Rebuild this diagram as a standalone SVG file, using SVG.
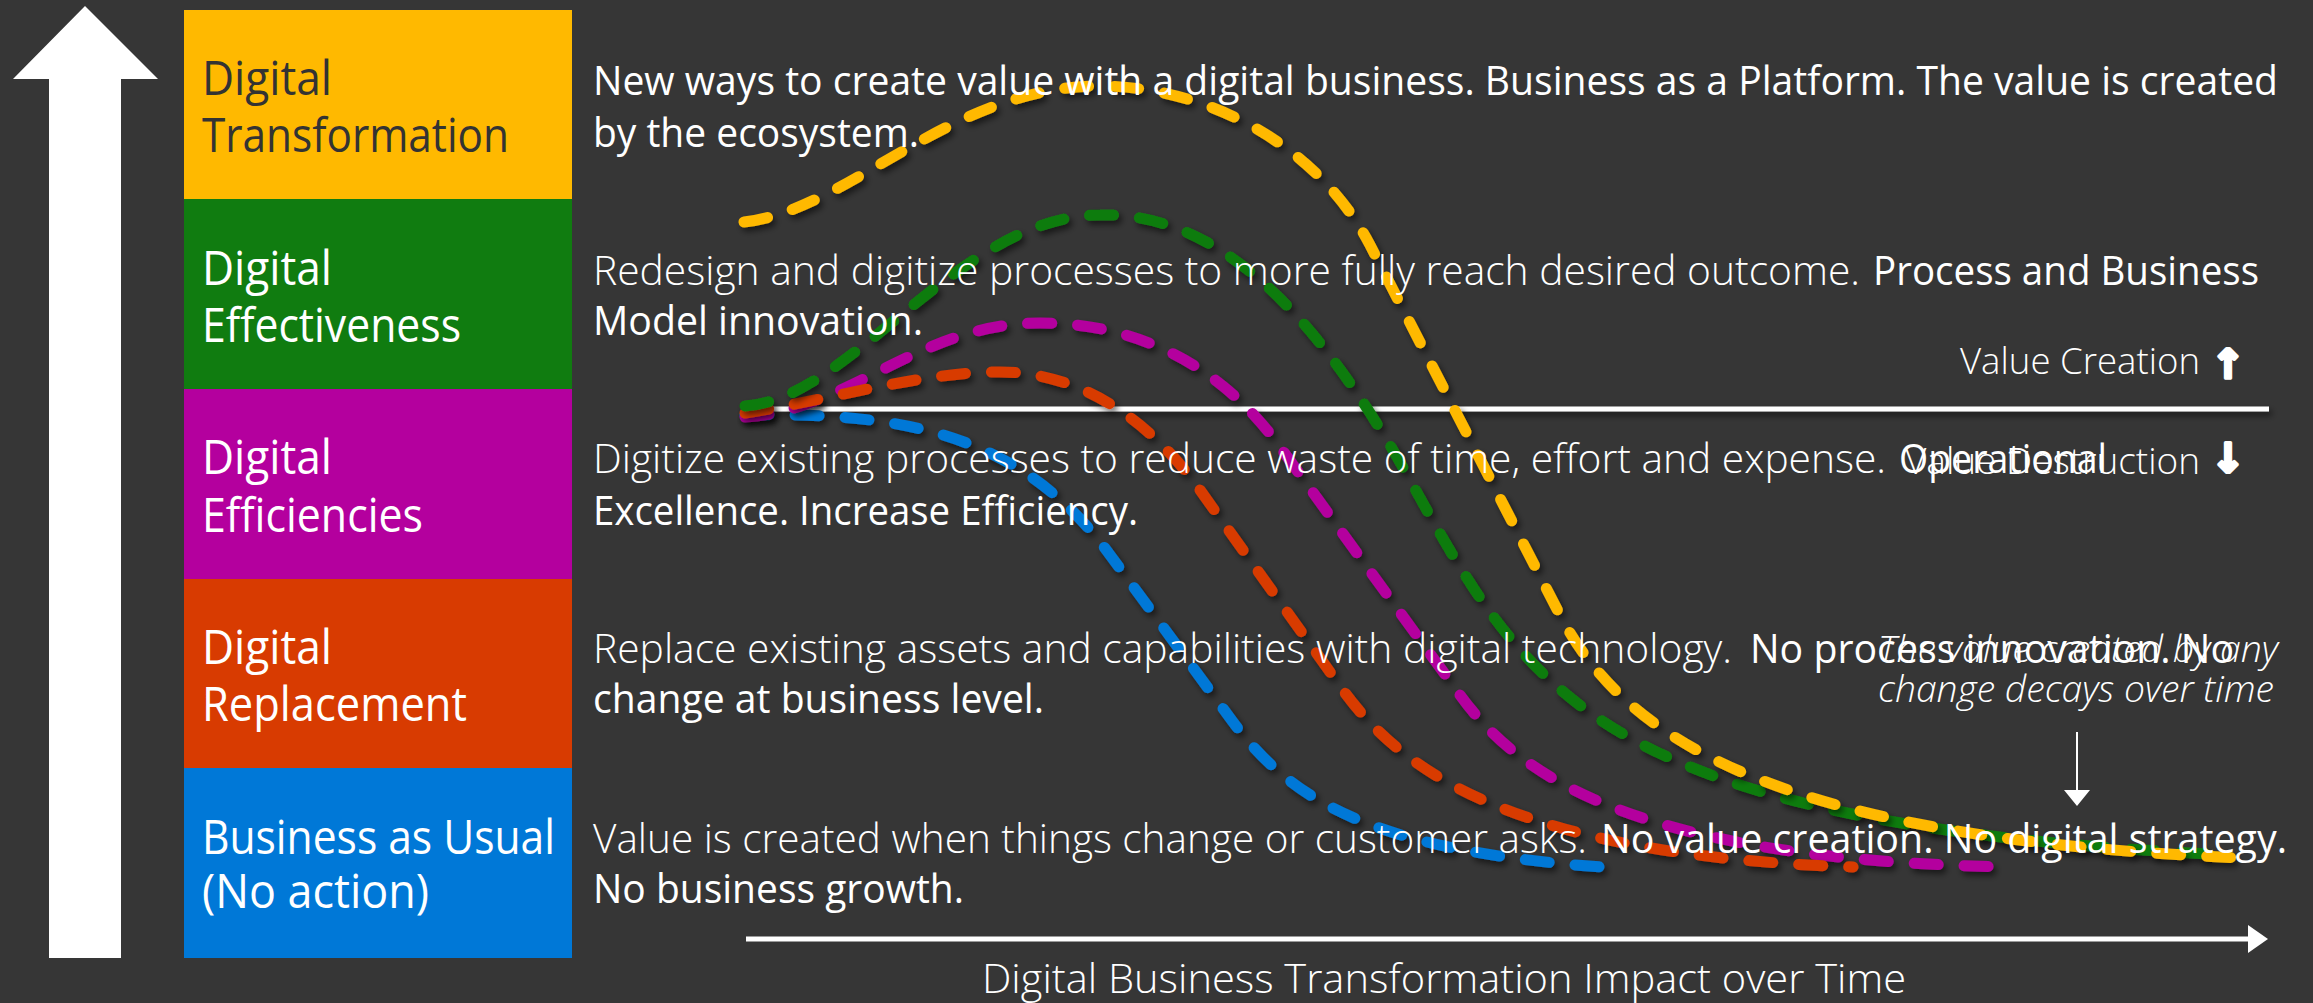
<svg xmlns="http://www.w3.org/2000/svg" width="2313" height="1003" viewBox="0 0 2313 1003">
<defs>
<style>
text{font-family:"Open Sans","Noto Sans","Liberation Sans",sans-serif}
.bl{font-size:48px;fill:#ffffff}
.dk{fill:#333333}
.d{font-size:40px;fill:#ffffff}
.lt{font-weight:300}
.r{font-size:36px;fill:#ffffff;font-weight:300}
.it{font-style:italic}
.sym{font-family:"DejaVu Sans",sans-serif;font-weight:bold;font-size:40px;fill:#ffffff;stroke:#ffffff;stroke-width:3.5;stroke-linejoin:round}
.curve{fill:none;stroke-width:11;stroke-linecap:round;stroke-dasharray:24 26;filter:url(#sh)}
</style>
<filter id="sh" filterUnits="userSpaceOnUse" x="0" y="0" width="2313" height="1003">
<feDropShadow dx="3" dy="4" stdDeviation="3" flood-color="#000000" flood-opacity="0.55"/>
</filter>
<marker id="axh" markerUnits="userSpaceOnUse" viewBox="0 0 20 28" refX="2" refY="14" markerWidth="20" markerHeight="28" orient="auto">
<path d="M0,0 L20,14 L0,28 Z" fill="#ffffff"/>
</marker>
<marker id="sah" markerUnits="userSpaceOnUse" viewBox="0 0 16 26" refX="2" refY="13" markerWidth="16" markerHeight="26" orient="auto">
<path d="M0,0 L16,13 L0,26 Z" fill="#ffffff"/>
</marker>
</defs>
<rect x="0" y="0" width="2313" height="1003" fill="#363636"/>

<g id="big-arrow">
<polygon points="85,6 158,79 121,79 121,958 49,958 49,79 13,79" fill="#ffffff"/>
</g>

<g id="box-transformation">
<rect x="184" y="10" width="388" height="190" fill="#FFB900"/>
<text class="bl dk" x="202" y="95" textLength="130" lengthAdjust="spacingAndGlyphs">Digital</text>
<text class="bl dk" x="202" y="152" textLength="307" lengthAdjust="spacingAndGlyphs">Transformation</text>
</g>
<g id="box-effectiveness">
<rect x="184" y="199" width="388" height="191" fill="#107C10"/>
<text class="bl" x="202" y="285" textLength="130" lengthAdjust="spacingAndGlyphs">Digital</text>
<text class="bl" x="202" y="342" textLength="259" lengthAdjust="spacingAndGlyphs">Effectiveness</text>
</g>
<g id="box-efficiencies">
<rect x="184" y="389" width="388" height="191" fill="#B4009E"/>
<text class="bl" x="202" y="474" textLength="130" lengthAdjust="spacingAndGlyphs">Digital</text>
<text class="bl" x="202" y="532" textLength="221" lengthAdjust="spacingAndGlyphs">Efficiencies</text>
</g>
<g id="box-replacement">
<rect x="184" y="579" width="388" height="190" fill="#D83B01"/>
<text class="bl" x="202" y="664" textLength="130" lengthAdjust="spacingAndGlyphs">Digital</text>
<text class="bl" x="202" y="721" textLength="265" lengthAdjust="spacingAndGlyphs">Replacement</text>
</g>
<g id="box-usual">
<rect x="184" y="768" width="388" height="190" fill="#0078D7"/>
<text class="bl" x="202" y="854" textLength="353" lengthAdjust="spacingAndGlyphs">Business as Usual</text>
<text class="bl" x="202" y="908" textLength="227" lengthAdjust="spacingAndGlyphs">(No action)</text>
</g>

<g id="axes">
<line x1="746" y1="409" x2="2269" y2="409" stroke="#ffffff" stroke-width="5" filter="url(#sh)"/>
<line x1="746" y1="939" x2="2250" y2="939" stroke="#ffffff" stroke-width="5" marker-end="url(#axh)"/>
</g>

<g id="curves">
<path class="curve" stroke="#0078D7" d="M745,415 C900,412 1020,432 1110,555 L1230,718 C1290,800 1370,850 1601,867"/>
<path class="curve" stroke="#B4009E" d="M745,417 C850,410 920,323 1040,323 C1150,323 1230,377 1280,447 L1460,695 C1520,778 1640,860 2009,867"/>
<path class="curve" stroke="#D83B01" d="M745,413 C830,400 920,372 1000,372 C1080,372 1150,420 1200,490 L1340,686 C1395,763 1500,855 1853,867"/>
<path class="curve" stroke="#107C10" d="M745,406 C850,400 960,215 1100,215 C1210,212 1310,300 1410,480 C1530,696 1600,825 2230,855"/>
<path class="curve" stroke="#FFB900" d="M744,222 C850,210 950,86 1100,86 C1200,86 1315,140 1370,245 L1560,615 C1630,750 1800,840 2245,858"/>
</g>

<g id="descriptions">
<text class="d" x="593" y="95" textLength="1685" lengthAdjust="spacingAndGlyphs">New ways to create value with a digital business. Business as a Platform. The value is created</text>
<text class="d" x="593" y="147" textLength="326" lengthAdjust="spacingAndGlyphs">by the ecosystem.</text>
<text class="d lt" x="593" y="285" textLength="1267" lengthAdjust="spacingAndGlyphs">Redesign and digitize processes to more fully reach desired outcome.</text>
<text class="d" x="1873" y="285" textLength="386" lengthAdjust="spacingAndGlyphs">Process and Business</text>
<text class="d" x="593" y="335" textLength="330" lengthAdjust="spacingAndGlyphs">Model innovation.</text>
<text class="d lt" x="593" y="473" textLength="1293" lengthAdjust="spacingAndGlyphs">Digitize existing processes to reduce waste of time, effort and expense.</text>
<text class="d" x="1899" y="473" textLength="208" lengthAdjust="spacingAndGlyphs">Operational</text>
<text class="d" x="593" y="525" textLength="545" lengthAdjust="spacingAndGlyphs">Excellence. Increase Efficiency.</text>
<text class="d lt" x="593" y="663" textLength="1139" lengthAdjust="spacingAndGlyphs">Replace existing assets and capabilities with digital technology.</text>
<text class="d" x="1750" y="663" textLength="484" lengthAdjust="spacingAndGlyphs">No process innovation. No</text>
<text class="d" x="593" y="713" textLength="451" lengthAdjust="spacingAndGlyphs">change at business level.</text>
<text class="d lt" x="593" y="853" textLength="994" lengthAdjust="spacingAndGlyphs">Value is created when things change or customer asks.</text>
<text class="d" x="1601" y="853" textLength="686" lengthAdjust="spacingAndGlyphs">No value creation. No digital strategy.</text>
<text class="d" x="593" y="903" textLength="371" lengthAdjust="spacingAndGlyphs">No business growth.</text>
</g>

<g id="value-labels">
<text class="r" x="1960" y="374" textLength="240" lengthAdjust="spacingAndGlyphs">Value Creation</text>
<text class="sym" x="2228" y="378" text-anchor="middle">↑</text>
<text class="r" x="1905" y="474" textLength="295" lengthAdjust="spacingAndGlyphs">Value Destruction</text>
<text class="sym" x="2228" y="472" text-anchor="middle">↓</text>
</g>

<g id="decay-note">
<text class="r it" x="1878" y="662" textLength="400" lengthAdjust="spacingAndGlyphs">The value created by any</text>
<text class="r it" x="1878" y="702" textLength="396" lengthAdjust="spacingAndGlyphs">change decays over time</text>
<line x1="2077" y1="732" x2="2077" y2="792" stroke="#ffffff" stroke-width="2" marker-end="url(#sah)"/>
</g>

<g id="x-label">
<text class="d lt" x="982" y="993" textLength="924" lengthAdjust="spacingAndGlyphs">Digital Business Transformation Impact over Time</text>
</g>
</svg>
